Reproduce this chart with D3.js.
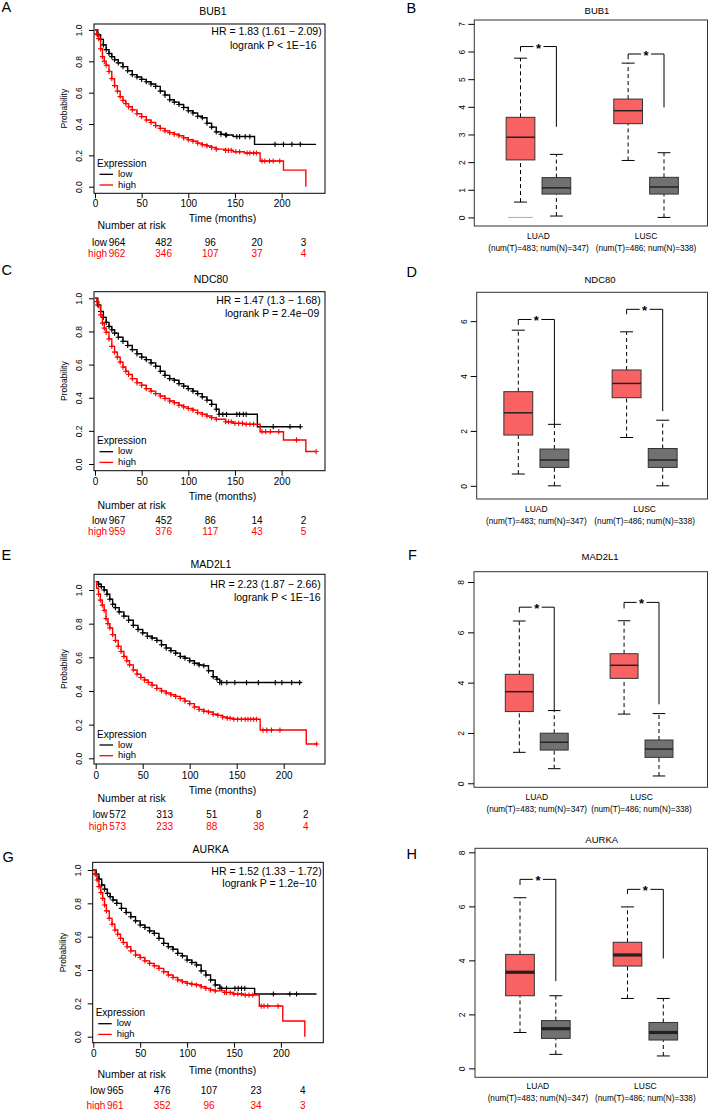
<!DOCTYPE html>
<html><head><meta charset="utf-8">
<script src="https://cdn.jsdelivr.net/npm/d3@7"></script>
<style>
body{margin:0;background:#fff;}
svg{display:block;font-family:"Liberation Sans",Arial,sans-serif;}
</style></head><body>
<svg id="chart" width="709" height="1110"></svg>
<script>
// ---------------- DATA ----------------
const kmGenes = ["BUB1", "NDC80", "MAD2L1", "AURKA"];
const kmHR = ["HR = 1.83 (1.61 \u2212 2.09)", "HR = 1.47 (1.3 \u2212 1.68)", "HR = 2.23 (1.87 \u2212 2.66)", "HR = 1.52 (1.33 \u2212 1.72)"];
const kmP = ["logrank P < 1E\u221216", "logrank P = 2.4e\u221209", "logrank P < 1E\u221216", "logrank P = 1.2e\u221210"];
const kmXTicks = [0, 50, 100, 150, 200];
const kmYTicks = [0, 0.2, 0.4, 0.6, 0.8, 1.0];
const riskTimes = [0, 50, 100, 150, 200];
const riskGroups = ["low", "high"];

const riskLowA = [964, 482, 96, 20, 3];
const riskHighA = [962, 346, 107, 37, 4];
const riskLowC = [967, 452, 86, 14, 2];
const riskHighC = [959, 376, 117, 43, 5];
const riskLowE = [572, 313, 51, 8, 2];
const riskHighE = [573, 233, 88, 38, 4];
const riskLowG = [965, 476, 107, 23, 4];
const riskHighG = [961, 352, 96, 34, 3];

// survival step knots [time (months), probability]
const lowA = [[0,1],[3,0.97],[6,0.94],[9,0.905],[12,0.875],[15,0.85],[18,0.83],[21,0.81],[25,0.79],[30,0.766],[35,0.74],[40,0.715],[45,0.70],[50,0.685],[55,0.67],[60,0.655],[65,0.64],[70,0.61],[75,0.585],[80,0.555],[85,0.54],[90,0.525],[95,0.505],[100,0.485],[105,0.47],[110,0.45],[115,0.44],[120,0.405],[125,0.38],[130,0.35],[135,0.335],[140,0.33],[148,0.32],[171,0.27],[237,0.27]];
const highA = [[0,1],[2,0.975],[4,0.945],[6,0.88],[8,0.83],[10,0.80],[12,0.775],[15,0.735],[18,0.69],[21,0.645],[24,0.61],[27,0.575],[30,0.55],[33,0.53],[36,0.51],[40,0.49],[45,0.466],[50,0.447],[55,0.426],[60,0.41],[65,0.39],[70,0.372],[75,0.356],[80,0.345],[85,0.335],[90,0.325],[95,0.312],[100,0.30],[105,0.29],[110,0.278],[115,0.268],[120,0.26],[125,0.25],[130,0.24],[140,0.232],[148,0.223],[160,0.215],[177,0.164],[202,0.106],[226,0]];
const censorLowA = [141,152,155,161,166,193,202,211,220];
const censorHighA = [143,146,151,155,163,166,170,173,179,182,187,191,198];

const lowC = [[0,1],[3,0.96],[6,0.92],[9,0.885],[12,0.855],[15,0.83],[18,0.81],[21,0.79],[25,0.765],[30,0.74],[35,0.715],[40,0.69],[45,0.665],[50,0.645],[55,0.63],[60,0.61],[65,0.59],[70,0.56],[75,0.535],[80,0.515],[85,0.505],[90,0.485],[95,0.47],[100,0.455],[105,0.44],[110,0.425],[115,0.405],[120,0.385],[125,0.36],[130,0.33],[133,0.30],[174,0.225],[221,0.225]];
const highC = [[0,1],[2,0.98],[4,0.955],[6,0.90],[8,0.85],[10,0.82],[12,0.795],[15,0.755],[18,0.71],[21,0.675],[24,0.645],[27,0.615],[30,0.585],[33,0.56],[36,0.54],[40,0.515],[45,0.49],[50,0.475],[55,0.455],[60,0.44],[65,0.425],[70,0.41],[75,0.395],[80,0.38],[85,0.37],[90,0.355],[95,0.345],[100,0.335],[105,0.325],[110,0.31],[115,0.30],[120,0.29],[125,0.28],[130,0.27],[140,0.255],[148,0.245],[160,0.24],[177,0.195],[202,0.145],[226,0.075],[237,0.075]];
const censorLowC = [137,141,152,155,159,162,191,209,220];
const censorHighC = [143,146,150,154,158,162,166,170,179,183,188,197,216,237];

const lowE = [[0,1.05],[3,1.035],[6,1.02],[9,1.0],[12,0.975],[15,0.945],[18,0.915],[21,0.895],[25,0.87],[30,0.845],[35,0.82],[40,0.79],[45,0.765],[50,0.745],[55,0.725],[60,0.715],[65,0.70],[70,0.675],[75,0.655],[80,0.64],[85,0.625],[90,0.605],[95,0.595],[100,0.58],[105,0.565],[110,0.555],[115,0.55],[120,0.52],[125,0.485],[129,0.47],[132,0.45],[219,0.45]];
const highE = [[0,1.05],[1,1.01],[3,0.975],[5,0.94],[7,0.91],[9,0.88],[11,0.83],[13,0.80],[15,0.775],[18,0.735],[21,0.70],[24,0.665],[27,0.635],[30,0.605],[33,0.58],[36,0.555],[40,0.525],[44,0.50],[48,0.48],[52,0.465],[56,0.45],[60,0.435],[65,0.415],[70,0.40],[75,0.388],[80,0.378],[85,0.368],[90,0.355],[95,0.34],[100,0.325],[105,0.305],[110,0.29],[115,0.28],[120,0.275],[125,0.262],[130,0.255],[135,0.245],[140,0.238],[146,0.232],[175,0.168],[224,0.085],[235,0.085]];
const censorLowE = [134,139.5,148,160.5,173,191,198,208.5,217];
const censorHighE = [143,147,151,155,159,162,165,168,171,178,182,187,196,235];

const lowG = [[0,1],[3,0.975],[6,0.945],[9,0.91],[12,0.885],[15,0.86],[18,0.84],[21,0.82],[25,0.80],[30,0.77],[35,0.745],[40,0.72],[45,0.695],[50,0.67],[55,0.655],[60,0.635],[65,0.62],[70,0.59],[75,0.56],[80,0.54],[85,0.525],[90,0.50],[95,0.485],[100,0.46],[105,0.445],[110,0.43],[115,0.395],[120,0.37],[125,0.34],[130,0.31],[135,0.29],[172,0.256],[238,0.256]];
const highG = [[0,1],[2,0.975],[4,0.94],[6,0.90],[8,0.865],[10,0.83],[12,0.79],[14,0.755],[17,0.71],[20,0.675],[23,0.64],[26,0.615],[29,0.59],[32,0.565],[36,0.54],[40,0.515],[45,0.49],[50,0.475],[55,0.455],[60,0.44],[65,0.425],[70,0.41],[75,0.39],[80,0.37],[85,0.355],[90,0.34],[95,0.33],[100,0.32],[105,0.315],[110,0.31],[115,0.30],[120,0.29],[125,0.28],[130,0.275],[140,0.265],[149,0.256],[160,0.25],[177,0.184],[202,0.094],[225.5,0]];
const censorLowG = [137,142,151,154.5,158,161.5,192,209.5,216.7];
const censorHighG = [142,146,150,154,158,162,166,170,179,182,186,197];

// Box plots: [lower whisker, Q1, median, Q3, upper whisker] for LUAD-T, LUAD-N, LUSC-T, LUSC-N
const boxGenes = ["BUB1", "NDC80", "MAD2L1", "AURKA"];
const boxCategories = ["LUAD", "LUSC"];
const boxSampleLabels = ["(num(T)=483; num(N)=347)", "(num(T)=486; num(N)=338)"];
const boxGroups = ["Tumor", "Normal", "Tumor", "Normal"];
const boxStatsB = [[0.555,2.08,2.90,3.62,5.76],[0.05,0.845,1.07,1.44,2.28],[2.06,3.39,3.86,4.28,5.58],[0.0,0.845,1.10,1.45,2.34]];
const boxStatsD = [[0.43,1.85,2.66,3.43,5.67],[0,0.67,0.94,1.34,2.24],[1.76,3.21,3.73,4.22,5.61],[0,0.67,0.94,1.36,2.39]];
const boxStatsF = [[1.23,2.85,3.64,4.33,6.45],[0.58,1.32,1.63,1.99,2.89],[2.75,4.17,4.69,5.15,6.46],[0.29,1.03,1.36,1.72,2.77]];
const boxStatsH = [[1.33,2.69,3.56,4.22,6.32],[0.52,1.11,1.47,1.77,2.69],[2.59,3.79,4.20,4.67,5.98],[0.46,1.05,1.33,1.70,2.59]];
// outliers [box index, value]
const outliersB = [[0, 0]];
// significance brackets [bar top, left leg end, right leg end] for LUAD, LUSC
const bracketsB = [[6.18,6.0,3.28],[5.91,5.72,3.98]];
const bracketsD = [[6.06,5.86,2.25],[6.43,6.25,2.72]];
const bracketsF = [[7.0,6.79,2.89],[7.19,6.95,3.14]];
const bracketsH = [[7.0,6.79,3.23],[6.63,6.46,4.07]];
const boxTicksB = [0,1,2,3,4,5,6,7];
const boxTicksD = [0,2,4,6];
const boxTicksF = [0,2,4,6,8];
const boxTicksH = [0,2,4,6,8];

// ---------------- DRAWING ----------------
const svg = d3.select("#chart");
const RED = "#ff0000";

function panelLetter(txt, x, y) {
  svg.append("text").attr("x", x).attr("y", y).attr("font-size", 14.5).attr("fill", "#000").text(txt);
}

function stepValue(knots, t) {
  let v = knots[0][1];
  for (const k of knots) { if (k[0] <= t) v = k[1]; }
  return v;
}

function drawKM(cfg, gene, hr, p, low, high, cLow, cHigh, rLow, rHigh) {
  const g = svg.append("g");
  const x = d3.scaleLinear().domain([0, 200]).range([cfg.x0, cfg.x0 + 200 * cfg.ppm]);
  const y = d3.scaleLinear().domain([0, 1]).range([cfg.y0, cfg.y1]);

  g.append("text").attr("x", cfg.titleX).attr("y", cfg.titleY).attr("dy", "0.35em")
    .attr("text-anchor", "middle").attr("font-size", 10.5).text(gene);

  // curves
  const line = d3.line().x(d => x(d[0])).y(d => y(d[1])).curve(d3.curveStepAfter);
  const clip = "clipKM" + cfg.id;
  g.append("clipPath").attr("id", clip).append("rect")
    .attr("x", cfg.left).attr("y", cfg.top).attr("width", cfg.right - cfg.left).attr("height", cfg.bottom - cfg.top);
  const cg = g.append("g").attr("clip-path", `url(#${clip})`);
  const series = [[low, cLow, "#000"], [high, cHigh, RED]];
  series.forEach(([knots, cens, col]) => {
    cg.append("path").attr("d", line(knots)).attr("fill", "none").attr("stroke", col).attr("stroke-width", 1.4);
    const marks = knots.filter(k => k[0] > 1 && k[0] <= 140).map(k => [k[0], k[1]])
      .concat(cens.map(t => [t, stepValue(knots, t)]));
    cg.selectAll(null).data(marks).enter().append("path")
      .attr("d", d => `M${x(d[0]) - 2.6},${y(d[1])}h5.2M${x(d[0])},${y(d[1]) - 2.6}v5.2`)
      .attr("stroke", col).attr("stroke-width", 1.1);
  });

  // frame
  g.append("rect").attr("x", cfg.left).attr("y", cfg.top).attr("width", cfg.right - cfg.left)
    .attr("height", cfg.bottom - cfg.top).attr("fill", "none").attr("stroke", "#000").attr("stroke-width", 1);

  // x axis
  const xa = g.append("g").attr("transform", `translate(0,${cfg.bottom})`)
    .call(d3.axisBottom(x).tickValues(kmXTicks).tickSize(5).tickPadding(2).tickFormat(d3.format("d")));
  xa.select(".domain").remove();
  xa.selectAll("text").attr("font-size", 10).attr("font-family", null).attr("fill", "#000")
    .attr("y", cfg.tickLabY - cfg.bottom).attr("dy", "0.35em");
  xa.selectAll("line").attr("stroke", "#000");

  // y axis
  const ya = g.append("g").attr("transform", `translate(${cfg.left},0)`)
    .call(d3.axisLeft(y).tickValues(kmYTicks).tickSize(5).tickFormat(d3.format(".1f")));
  ya.select(".domain").remove();
  ya.selectAll("line").attr("stroke", "#000");
  ya.selectAll("text").attr("font-size", 8.5).attr("font-family", null).attr("fill", "#000")
    .attr("x", 0).attr("dy", "0.35em").attr("text-anchor", "middle")
    .attr("transform", `translate(${-15},0) rotate(-90)`);

  g.append("text").attr("transform", `translate(${cfg.left - 30},${(cfg.top + cfg.bottom) / 2}) rotate(-90)`)
    .attr("dy", "0.35em").attr("text-anchor", "middle").attr("font-size", 8.5).text("Probability");

  // HR / p
  g.append("text").attr("x", cfg.hrX).attr("y", cfg.hrY).attr("dy", "0.35em").attr("text-anchor", "end")
    .attr("font-size", 10.5).text(hr);
  g.append("text").attr("x", cfg.pX).attr("y", cfg.pY).attr("dy", "0.35em").attr("text-anchor", "end")
    .attr("font-size", 10.5).text(p);

  // legend
  const lx = cfg.left;
  g.append("text").attr("x", lx + 3).attr("y", cfg.bottom - 30).attr("dy", "0.35em").attr("font-size", 10).text("Expression");
  [["low", "#000", -19], ["high", RED, -8.3]].forEach(([lab, col, dy]) => {
    g.append("line").attr("x1", lx + 5.5).attr("x2", lx + 19).attr("y1", cfg.bottom + dy).attr("y2", cfg.bottom + dy)
      .attr("stroke", col).attr("stroke-width", 1.3);
    g.append("text").attr("x", lx + 24).attr("y", cfg.bottom + dy - 0.5).attr("dy", "0.33em").attr("font-size", 9.5).text(lab);
  });

  // axis title
  g.append("text").attr("x", 222.5).attr("y", cfg.timeY).attr("dy", "0.35em").attr("text-anchor", "middle")
    .attr("font-size", 10.5).text("Time (months)");

  // number at risk
  g.append("text").attr("x", 97.5).attr("y", cfg.narY).attr("dy", "0.35em").attr("font-size", 10.5).text("Number at risk");
  [[riskGroups[0], rLow, "#000", cfg.lowY], [riskGroups[1], rHigh, RED, cfg.highY]].forEach(([lab, vals, col, yy]) => {
    g.append("text").attr("x", x(0) + 22 - 10).attr("y", yy).attr("dy", "0.35em").attr("text-anchor", "end")
      .attr("font-size", 10).attr("fill", col).text(lab);
    g.selectAll(null).data(vals).enter().append("text")
      .attr("x", (d, i) => x(riskTimes[i]) + 22).attr("y", yy).attr("dy", "0.35em").attr("text-anchor", "middle")
      .attr("font-size", 10).attr("fill", col).text(d => d);
  });
}

function drawBox(cfg, gene, stats, brackets, ticks, outliers) {
  const g = svg.append("g");
  const x = d3.scaleLinear().domain([0, 4]).range([cfg.c0, cfg.c4]);
  const y = d3.scaleLinear().domain([cfg.vMin, cfg.vMax]).range([cfg.bottom, cfg.top]);
  const pos = [0, 1, 3, 4];
  const bw = 0.8, cw = 0.36;

  g.append("text").attr("x", cfg.titleX).attr("y", cfg.titleY).attr("dy", "0.35em")
    .attr("text-anchor", "middle").attr("font-size", 9.5).text(gene);

  stats.forEach((s, i) => {
    const cx = x(pos[i]);
    const half = (x(bw) - x(0)) / 2, chalf = (x(cw) - x(0)) / 2;
    const fill = boxGroups[i] === "Tumor" ? "#f96262" : "#717171";
    g.append("line").attr("x1", cx).attr("x2", cx).attr("y1", y(s[0])).attr("y2", y(s[1]))
      .attr("stroke", "#000").attr("stroke-dasharray", "4,3").attr("stroke-width", 1);
    g.append("line").attr("x1", cx).attr("x2", cx).attr("y1", y(s[3])).attr("y2", y(s[4]))
      .attr("stroke", "#000").attr("stroke-dasharray", "4,3").attr("stroke-width", 1);
    [s[0], s[4]].forEach(v => g.append("line").attr("x1", cx - chalf).attr("x2", cx + chalf)
      .attr("y1", y(v)).attr("y2", y(v)).attr("stroke", "#000").attr("stroke-width", 1));
    g.append("rect").attr("x", cx - half).attr("y", y(s[3])).attr("width", 2 * half).attr("height", y(s[1]) - y(s[3]))
      .attr("fill", fill).attr("stroke", "#333").attr("stroke-width", 1);
    g.append("line").attr("x1", cx - half).attr("x2", cx + half).attr("y1", y(s[2])).attr("y2", y(s[2]))
      .attr("stroke", "#222").attr("stroke-width", cfg.medW);
  });

  (outliers || []).forEach(([i, v]) => {
    const cx = x(pos[i]), half = (x(bw) - x(0)) / 2 - 2;
    g.append("line").attr("x1", cx - half).attr("x2", cx + half).attr("y1", y(v)).attr("y2", y(v))
      .attr("stroke", "#f08c8c").attr("stroke-width", 1);
  });

  brackets.forEach((b, j) => {
    const xl = x(pos[2 * j]), xr = x(pos[2 * j + 1]), xm = (xl + xr) / 2, yb = y(b[0]);
    const path = `M${xl},${y(b[1])}V${yb}H${xm - 5}M${xm + 5},${yb}H${xr}V${y(b[2])}`;
    g.append("path").attr("d", path).attr("fill", "none").attr("stroke", "#000").attr("stroke-width", 1);
    g.append("text").attr("x", xm).attr("y", yb + 6).attr("text-anchor", "middle").attr("font-size", 13)
      .attr("font-weight", "bold").text("*");
  });

  g.append("rect").attr("x", cfg.left).attr("y", cfg.top).attr("width", cfg.right - cfg.left)
    .attr("height", cfg.bottom - cfg.top).attr("fill", "none").attr("stroke", "#333").attr("stroke-width", 1);

  const ya = g.append("g").attr("transform", `translate(${cfg.left},0)`)
    .call(d3.axisLeft(y).tickValues(ticks).tickSize(6).tickFormat(d3.format("d")));
  ya.select(".domain").remove();
  ya.selectAll("line").attr("stroke", "#000");
  ya.selectAll("text").attr("font-size", 8.5).attr("font-family", null).attr("fill", "#000")
    .attr("x", 0).attr("dy", "0.35em").attr("text-anchor", "middle")
    .attr("transform", `translate(${-12.5},0) rotate(-90)`);

  boxCategories.forEach((c, j) => {
    const gx = x(pos[2 * j] + 0.5);
    g.append("text").attr("x", gx).attr("y", cfg.catY).attr("dy", "0.35em").attr("text-anchor", "middle")
      .attr("font-size", 8.5).text(c);
    g.append("text").attr("x", gx).attr("y", cfg.numY).attr("dy", "0.35em").attr("text-anchor", "middle")
      .attr("font-size", 8.2).text(boxSampleLabels[j]);
  });
}

// ---------- layout ----------
const kmA = {id:"A", left:94, right:325, top:24, bottom:193.3, x0:95, ppm:0.933, y1:30, y0:186.7, titleX:213, titleY:11,
  hrX:321.7, hrY:31.7, pX:316.7, pY:45, tickLabY:204, timeY:218, narY:225.5, lowY:242.7, highY:253.7};
const kmC = {id:"C", left:94, right:325, top:291.7, bottom:470.7, x0:95, ppm:0.933, y1:298.3, y0:464, titleX:211, titleY:279,
  hrX:320.7, hrY:300.7, pX:319.3, pY:313.3, tickLabY:481.7, timeY:496.7, narY:505.7, lowY:520, highY:531};
const kmE = {id:"E", left:94, right:325, top:574.3, bottom:764, x0:95.7, ppm:0.94, y1:590, y0:758.3, titleX:211, titleY:564,
  hrX:320.7, hrY:584.3, pX:320.7, pY:597.3, tickLabY:775, timeY:790.7, narY:798.3, lowY:814, highY:826.3};
const kmG = {id:"G", left:92.7, right:323.3, top:862.3, bottom:1042.7, x0:93.3, ppm:0.938, y1:870, y0:1036.7, titleX:210.7, titleY:849,
  hrX:321.7, hrY:871, pX:316.7, pY:883.3, tickLabY:1053.3, timeY:1070.7, narY:1074, lowY:1090.7, highY:1105};

const bxB = {left:474.3, right:707.5, top:20, bottom:226, vMin:-0.31, vMax:7.14, c0:520.5, c4:664, titleX:597, titleY:11, catY:236, numY:248.3, medW:1.5};
const bxD = {left:476.7, right:707.5, top:292.3, bottom:499, vMin:-0.48, vMax:7.05, c0:518.3, c4:662.7, titleX:600, titleY:280, catY:509.3, numY:520.7, medW:1.5};
const bxF = {left:474, right:707.5, top:571.7, bottom:787.3, vMin:-0.16, vMax:8.41, c0:519.3, c4:659, titleX:600, titleY:556.7, catY:796.7, numY:809, medW:1.5};
const bxH = {left:475, right:707.5, top:848.3, bottom:1077.3, vMin:-0.33, vMax:8.15, c0:520, c4:663.3, titleX:601.7, titleY:840, catY:1085.7, numY:1098.3, medW:3.2};

drawKM(kmA, kmGenes[0], kmHR[0], kmP[0], lowA, highA, censorLowA, censorHighA, riskLowA, riskHighA);
drawKM(kmC, kmGenes[1], kmHR[1], kmP[1], lowC, highC, censorLowC, censorHighC, riskLowC, riskHighC);
drawKM(kmE, kmGenes[2], kmHR[2], kmP[2], lowE, highE, censorLowE, censorHighE, riskLowE, riskHighE);
drawKM(kmG, kmGenes[3], kmHR[3], kmP[3], lowG, highG, censorLowG, censorHighG, riskLowG, riskHighG);

drawBox(bxB, boxGenes[0], boxStatsB, bracketsB, boxTicksB, outliersB);
drawBox(bxD, boxGenes[1], boxStatsD, bracketsD, boxTicksD);
drawBox(bxF, boxGenes[2], boxStatsF, bracketsF, boxTicksF);
drawBox(bxH, boxGenes[3], boxStatsH, bracketsH, boxTicksH);

panelLetter("A", 1.5, 12);
panelLetter("B", 406.5, 13);
panelLetter("C", 1.5, 275);
panelLetter("D", 406.5, 277);
panelLetter("E", 1.5, 560);
panelLetter("F", 408, 560);
panelLetter("G", 2.5, 862);
panelLetter("H", 406.5, 859);
</script>
</body></html>
